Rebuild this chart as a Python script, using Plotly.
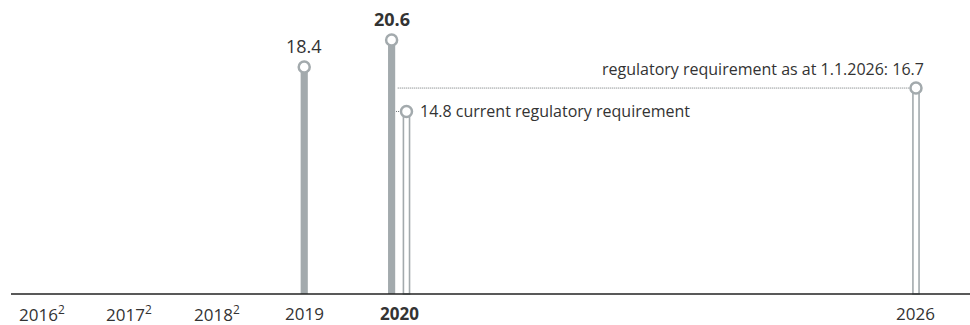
import plotly.graph_objects as go

# Category labels along the axis
years = [2016, 2017, 2018, 2019, 2020, 2026]
year_labels = ["2016<sup>2</sup>", "2017<sup>2</sup>", "2018<sup>2</sup>", "2019", "<b>2020</b>", "2026"]

# Actual ratio (%)
actual_years = [2019, 2020]
actual_values = [18.4, 20.6]
actual_labels = ["18.4", "<b>20.6</b>"]

# Regulatory requirement (%)
req_years = [2020, 2026]
req_values = [14.8, 16.7]

GREY = "#a3aaad"
TEXT = "#333333"
FONT = "Open Sans"

req_offset = 0.17  # requirement bar sits just right of the 2020 actual bar
req_x = [y + (req_offset if y == 2020 else 0) for y in req_years]

fig = go.Figure()

# Solid bars for actual values
fig.add_trace(go.Bar(x=actual_years, y=actual_values, width=0.082,
                     marker=dict(color=GREY, line=dict(width=0)), hoverinfo="skip"))
# Outlined bars for requirements
fig.add_trace(go.Bar(x=req_x, y=req_values, width=0.07,
                     marker=dict(color="white", line=dict(color=GREY, width=1.6)),
                     hoverinfo="skip"))

# Dotted line from 2020 to the 2026 requirement
fig.add_trace(go.Scatter(x=[2020.07, req_x[1]], y=[req_values[1]] * 2, mode="lines",
                         line=dict(color="#6f7477", width=1, dash="1px,1px"), hoverinfo="skip"))
# Short dotted leader to the current requirement marker
fig.add_trace(go.Scatter(x=[2020.05, req_x[0]], y=[req_values[0]] * 2, mode="lines",
                         line=dict(color="#6f7477", width=1, dash="1px,1px"), hoverinfo="skip"))

# Hollow circle caps
fig.add_trace(go.Scatter(x=actual_years + req_x, y=actual_values + req_values, mode="markers",
                         marker=dict(symbol="circle", size=11, color="white",
                                     line=dict(color=GREY, width=2.5)),
                         hoverinfo="skip"))

annotations = []
for x, v, t in zip(actual_years, actual_values, actual_labels):
    annotations.append(dict(x=x, y=v, text=t, showarrow=False, yshift=21,
                            font=dict(family=FONT, size=18, color=TEXT)))
annotations.append(dict(x=req_x[0], y=req_values[0], text=f"{req_values[0]} current regulatory requirement",
                        showarrow=False, xanchor="left", xshift=12,
                        font=dict(family=FONT, size=16, color=TEXT)))
annotations.append(dict(x=req_x[1], y=req_values[1],
                        text=f"regulatory requirement as at 1.1.2026: {req_values[1]}",
                        showarrow=False, xanchor="right", xshift=10, yshift=19,
                        font=dict(family=FONT, size=16, color=TEXT)))
label_x = [y + (req_offset / 2 if y == 2020 else 0) for y in years]
for x, t in zip(label_x, year_labels):
    annotations.append(dict(x=x, y=-1.55, text=t, showarrow=False,
                            font=dict(family=FONT, size=17, color=TEXT)))

fig.update_layout(
    width=970, height=325, margin=dict(l=0, r=0, t=0, b=0),
    paper_bgcolor="white", plot_bgcolor="white", showlegend=False,
    barmode="overlay", annotations=annotations,
    xaxis=dict(range=[2015.519, 2026.618], visible=False),
    yaxis=dict(range=[-2.514, 23.84], visible=False),
    shapes=[dict(type="line", xref="paper", x0=11 / 970, x1=1, yref="y", y0=0, y1=0,
                 line=dict(color="#222", width=1.5))],
)

fig.write_html("out.html")
